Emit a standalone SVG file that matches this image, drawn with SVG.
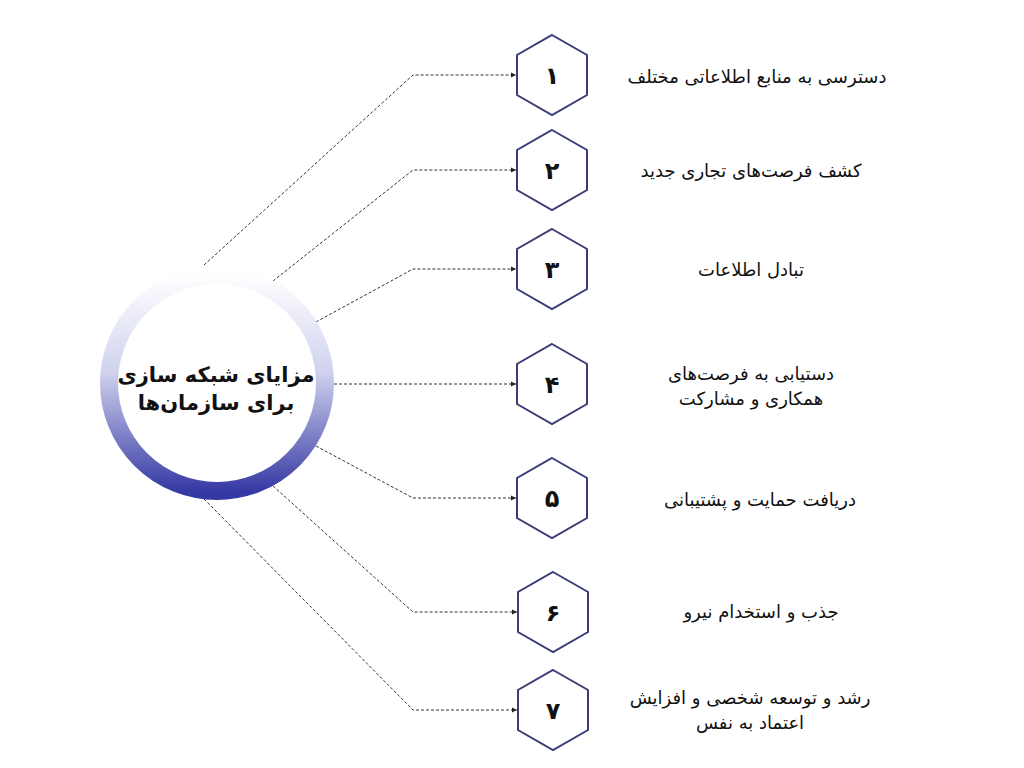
<svg xmlns="http://www.w3.org/2000/svg" width="1024" height="768" viewBox="0 0 1024 768">
<defs>
<linearGradient id="ring" x1="0" y1="0" x2="0" y2="1">
<stop offset="0" stop-color="#ffffff"/>
<stop offset="0.45" stop-color="#d0d2ee"/>
<stop offset="1" stop-color="#3539a3"/>
</linearGradient>
<marker id="arr" markerWidth="6" markerHeight="6" refX="5" refY="3" orient="auto" markerUnits="userSpaceOnUse">
<path d="M0,0.5 L5,3 L0,5.5 Z" fill="#222"/>
</marker>
<polygon id="hex" points="0,-40 35,-20 35,20 0,40 -35,20 -35,-20"/>
</defs>
<style>
.hex{fill:#fff;stroke:#3b3d78;stroke-width:2}
.num{font-family:"DejaVu Sans",sans-serif;font-weight:bold;font-size:24px;fill:#111;text-anchor:middle}
.lbl{font-family:"DejaVu Sans",sans-serif;font-size:18px;fill:#111;text-anchor:middle}
.title{font-family:"DejaVu Sans",sans-serif;font-weight:bold;font-size:21px;fill:#111;text-anchor:middle}
.conn{fill:none;stroke:#333;stroke-width:1;stroke-dasharray:3,2}
</style>
<rect width="1024" height="768" fill="#fff"/>
<g id="connectors">
<polyline class="conn" points="204,265 413,75 516,75" marker-end="url(#arr)"/>
<polyline class="conn" points="273,281 413,170 516,170" marker-end="url(#arr)"/>
<polyline class="conn" points="316,322 413,269 516,269" marker-end="url(#arr)"/>
<polyline class="conn" points="334,384 516,384" marker-end="url(#arr)"/>
<polyline class="conn" points="316,446 413,498 516,498" marker-end="url(#arr)"/>
<polyline class="conn" points="273,486 413,612 517,612" marker-end="url(#arr)"/>
<polyline class="conn" points="204,499 413,710 517,710" marker-end="url(#arr)"/>
</g>
<g id="center">
<circle cx="217" cy="383" r="108" fill="#fff" stroke="url(#ring)" stroke-width="18"/>
<text class="title" x="216" y="382" direction="rtl">مزایای شبکه سازی</text>
<text class="title" x="216" y="410" direction="rtl">برای سازمان‌ها</text>
</g>
<g id="node1"><use href="#hex" class="hex" x="552" y="75"/><text class="num" x="552" y="84">۱</text><text class="lbl" x="757" y="83" direction="rtl">دسترسی به منابع اطلاعاتی مختلف</text></g>
<g id="node2"><use href="#hex" class="hex" x="552" y="170"/><text class="num" x="552" y="179">۲</text><text class="lbl" x="751" y="177" direction="rtl">کشف فرصت‌های تجاری جدید</text></g>
<g id="node3"><use href="#hex" class="hex" x="552" y="269"/><text class="num" x="552" y="278">۳</text><text class="lbl" x="751" y="276" direction="rtl">تبادل اطلاعات</text></g>
<g id="node4"><use href="#hex" class="hex" x="552" y="384"/><text class="num" x="552" y="393">۴</text><text class="lbl" x="751" y="380" direction="rtl">دستیابی به فرصت‌های</text><text class="lbl" x="751" y="405" direction="rtl">همکاری و مشارکت</text></g>
<g id="node5"><use href="#hex" class="hex" x="552" y="498"/><text class="num" x="552" y="507">۵</text><text class="lbl" x="760" y="506" direction="rtl">دریافت حمایت و پشتیبانی</text></g>
<g id="node6"><use href="#hex" class="hex" x="553" y="612"/><text class="num" x="553" y="621">۶</text><text class="lbl" x="761" y="618" direction="rtl">جذب و استخدام نیرو</text></g>
<g id="node7"><use href="#hex" class="hex" x="553" y="710"/><text class="num" x="553" y="719">۷</text><text class="lbl" x="750" y="704" direction="rtl">رشد و توسعه شخصی و افزایش</text><text class="lbl" x="750" y="729" direction="rtl">اعتماد به نفس</text></g>
</svg>
